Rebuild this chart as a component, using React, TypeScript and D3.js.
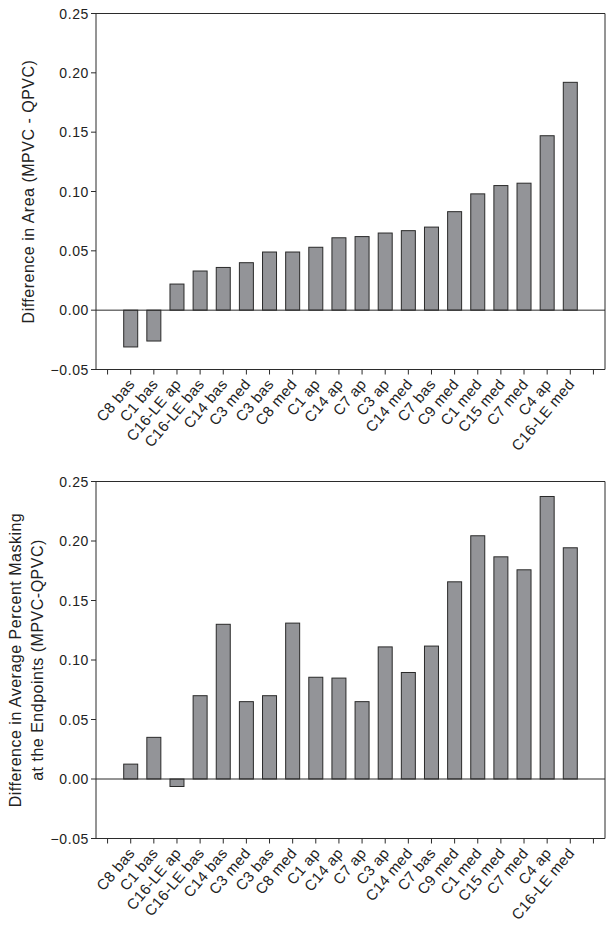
import React from "react";
import * as d3 from "d3";

const categories = [
  "C8 bas", "C1 bas", "C16-LE ap", "C16-LE bas", "C14 bas", "C3 med", "C3 bas",
  "C8 med", "C1 ap", "C14 ap", "C7 ap", "C3 ap", "C14 med", "C7 bas", "C9 med",
  "C1 med", "C15 med", "C7 med", "C4 ap", "C16-LE med",
];

const areaDiff = [
  -0.031, -0.026, 0.022, 0.033, 0.036, 0.040, 0.049, 0.049, 0.053, 0.061,
  0.062, 0.065, 0.067, 0.070, 0.083, 0.098, 0.105, 0.107, 0.147, 0.192,
];

const maskingDiff = [
  0.0125, 0.035, -0.0063, 0.070, 0.130, 0.065, 0.070, 0.131, 0.0855, 0.0848,
  0.065, 0.111, 0.0895, 0.1117, 0.1657, 0.2044, 0.1867, 0.1758, 0.2374, 0.1943,
];

const yTicks = [-0.05, 0.0, 0.05, 0.1, 0.15, 0.2, 0.25];

const topTitle = ["Difference in Area (MPVC - QPVC)"];
const bottomTitle = ["Difference in Average Percent Masking", "at the Endpoints (MPVC-QPVC)"];

const FONT = "Arial, 'Liberation Sans', Helvetica, sans-serif";
const AXIS = "#2b2b2b";

type PanelProps = {
  values: number[];
  top: number;
  bottom: number;
  title: string[];
  titleX: number[];
};

function Panel({ values, top, bottom, title, titleX }: PanelProps) {
  const left = 96;
  const right = 605;
  const x = d3.scaleLinear().domain([-0.5, categories.length + 1.5]).range([left, right]);
  const y = d3.scaleLinear().domain([-0.05, 0.25]).range([bottom, top]);
  const barW = 14;
  const tickIdx = d3.range(0, categories.length + 2);
  const midY = (top + bottom) / 2;
  return (
    <g>
      {values.map((v, i) => {
        const cx = x(i + 1);
        const y0 = y(0);
        const yv = y(v);
        return (
          <rect
            key={i}
            x={cx - barW / 2}
            y={Math.min(y0, yv)}
            width={barW}
            height={Math.abs(yv - y0)}
            fill="#939498"
            stroke="#2a2a2a"
            strokeWidth={1}
          />
        );
      })}
      <line x1={left} x2={right} y1={y(0)} y2={y(0)} stroke={AXIS} strokeWidth={1} />
      <path
        d={`M${left},${top}H${right}V${bottom}H${left}Z`}
        fill="none"
        stroke={AXIS}
        strokeWidth={1}
      />
      {yTicks.map((t) => (
        <g key={t} transform={`translate(${left},${y(t)})`}>
          <line x1={-5} x2={0} stroke={AXIS} strokeWidth={1} />
          <text
            x={-7}
            dy="0.36em"
            textAnchor="end"
            fontFamily={FONT}
            fontSize={14}
            letterSpacing={0.6}
            fill="#222"
          >
            {d3.format(".2f")(t)}
          </text>
        </g>
      ))}
      {tickIdx.map((i) => (
        <line
          key={i}
          x1={x(i)}
          x2={x(i)}
          y1={bottom}
          y2={bottom + 5}
          stroke={AXIS}
          strokeWidth={1}
        />
      ))}
      {categories.map((c, i) => (
        <text
          key={c}
          transform={`translate(${x(i + 1) + 5},${bottom + 15}) rotate(-50)`}
          textAnchor="end"
          fontFamily={FONT}
          fontSize={15}
          letterSpacing={0.4}
          fill="#222"
        >
          {c}
        </text>
      ))}
      {title.map((t, k) => (
        <text
          key={k}
          transform={`translate(${titleX[k]},${midY}) rotate(-90)`}
          textAnchor="middle"
          fontFamily={FONT}
          fontSize={16}
          letterSpacing={0.5}
          fill="#222"
        >
          {t}
        </text>
      ))}
    </g>
  );
}

export default function App() {
  return (
    <svg
      width={615}
      height={925}
      style={{ position: "absolute", left: 0, top: 0, background: "#fff" }}
    >
      <rect width={615} height={925} fill="#fff" />
      <Panel values={areaDiff} top={13.5} bottom={369.5} title={topTitle} titleX={[34]} />
      <Panel
        values={maskingDiff}
        top={481.5}
        bottom={838.5}
        title={bottomTitle}
        titleX={[21, 43]}
      />
    </svg>
  );
}
